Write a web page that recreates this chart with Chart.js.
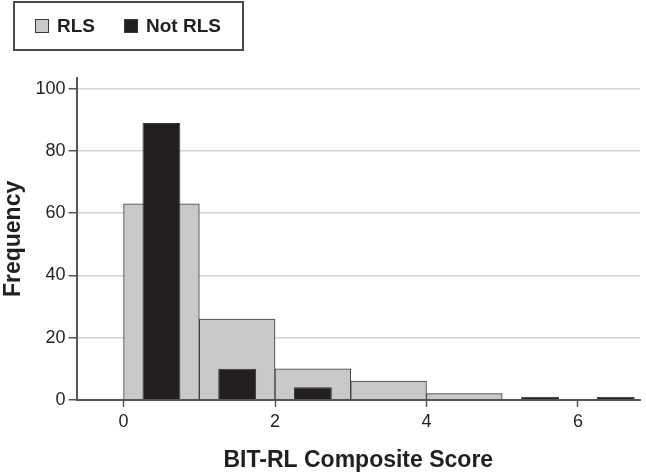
<!DOCTYPE html>
<html lang="en">
<head>
  <meta charset="UTF-8">
  <title>BIT-RL Composite Score</title>
  <script src="https://cdn.jsdelivr.net/npm/chart.js"></script>
  <style>
    body {
      margin: 0;
      background: #fff;
      font-family: 'Liberation Sans', Arial, sans-serif;
    }
    #wrap {
      position: relative;
      width: 646px;
      height: 475px;
    }
    #legend {
      position: absolute;
      left: 13px;
      top: 1px;
      width: 231px;
      height: 50px;
      border: 2px solid #4a4a4a;
      display: flex;
      align-items: center;
      padding-left: 20px;
      box-sizing: border-box;
      font-weight: bold;
      font-size: 19px;
      color: #231f20;
      white-space: nowrap;
    }
    .item {
      display: flex;
      align-items: center;
      margin-right: 29px;
    }
    .swatch {
      width: 12px;
      height: 12px;
      border: 1px solid #3a3a3a;
      margin-right: 8px;
    }
  </style>
</head>
<body>
  <div id="wrap">
    <canvas id="grafico" width="646" height="475"></canvas>
    <div id="legend"></div>
  </div>

  <script>
    // histogram bins (lower edge of each 1-point bin)
    const binStart = [0, 1, 2, 3, 4, 5, 6];
    const rlsCounts = [63, 26, 10, 6, 2, 0, 0];
    const notRlsCounts = [89, 10, 4, 0, 0, 1, 1];
    const seriesNames = ['RLS', 'Not RLS'];
    const xTickValues = [0, 2, 4, 6];
    const yTickValues = [0, 20, 40, 60, 80, 100];

    const toPoints = counts => binStart.map((b, i) => ({ x: b + 0.5, y: counts[i] || null }));

    const fontFam = "'Liberation Sans', Arial, sans-serif";
    const axisColor = '#555555';

    const datasets = [
      {
        label: seriesNames[0],
        data: toPoints(rlsCounts),
        backgroundColor: '#c8c9cb',
        borderColor: '#3a3a3a',
        borderWidth: 1,
        barPercentage: 1,
        categoryPercentage: 1,
        grouped: false,
        order: 1
      },
      {
        label: seriesNames[1],
        data: toPoints(notRlsCounts),
        backgroundColor: '#231f20',
        borderColor: '#3a3a3a',
        borderWidth: 1,
        barPercentage: 0.5,
        categoryPercentage: 1,
        grouped: false,
        order: 0
      }
    ];

    // legend in a box, like the original
    const legendEl = document.getElementById('legend');
    datasets.forEach(ds => {
      const item = document.createElement('div');
      item.className = 'item';
      item.innerHTML = `<span class="swatch" style="background:${ds.backgroundColor}"></span><span>${ds.label}</span>`;
      legendEl.appendChild(item);
    });

    new Chart(document.getElementById('grafico').getContext('2d'), {
      type: 'bar',
      data: { datasets },
      options: {
        responsive: false,
        animation: false,
        layout: { padding: { top: 78, right: 6, left: 0, bottom: 0 } },
        plugins: {
          legend: { display: false },
          tooltip: { enabled: false }
        },
        scales: {
          x: {
            type: 'linear',
            min: -0.62,
            max: 6.82,
            offset: false,
            afterBuildTicks: axis => { axis.ticks = xTickValues.map(v => ({ value: v })); },
            ticks: {
              font: { family: fontFam, size: 18 },
              color: '#231f20',
              padding: 4,
              maxRotation: 0
            },
            grid: {
              offset: false,
              drawOnChartArea: false,
              tickLength: 7,
              tickColor: axisColor,
              tickWidth: 1.5
            },
            border: { color: axisColor, width: 2 },
            title: {
              display: true,
              text: 'BIT-RL Composite Score',
              font: { family: fontFam, size: 23, weight: 'bold' },
              color: '#231f20',
              padding: { top: 10, bottom: 1 }
            }
          },
          y: {
            min: 0,
            max: 103.5,
            afterBuildTicks: axis => { axis.ticks = yTickValues.map(v => ({ value: v })); },
            ticks: {
              font: { family: fontFam, size: 18 },
              color: '#231f20',
              padding: 3
            },
            grid: {
              color: '#d2d2d2',
              lineWidth: 1.5,
              tickLength: 8,
              tickColor: axisColor,
              tickWidth: 1.5
            },
            border: { color: axisColor, width: 2 },
            title: {
              display: true,
              text: 'Frequency',
              font: { family: fontFam, size: 23, weight: 'bold' },
              color: '#231f20',
              padding: { top: 0, bottom: 5 }
            }
          }
        }
      }
    });
  </script>
</body>
</html>
